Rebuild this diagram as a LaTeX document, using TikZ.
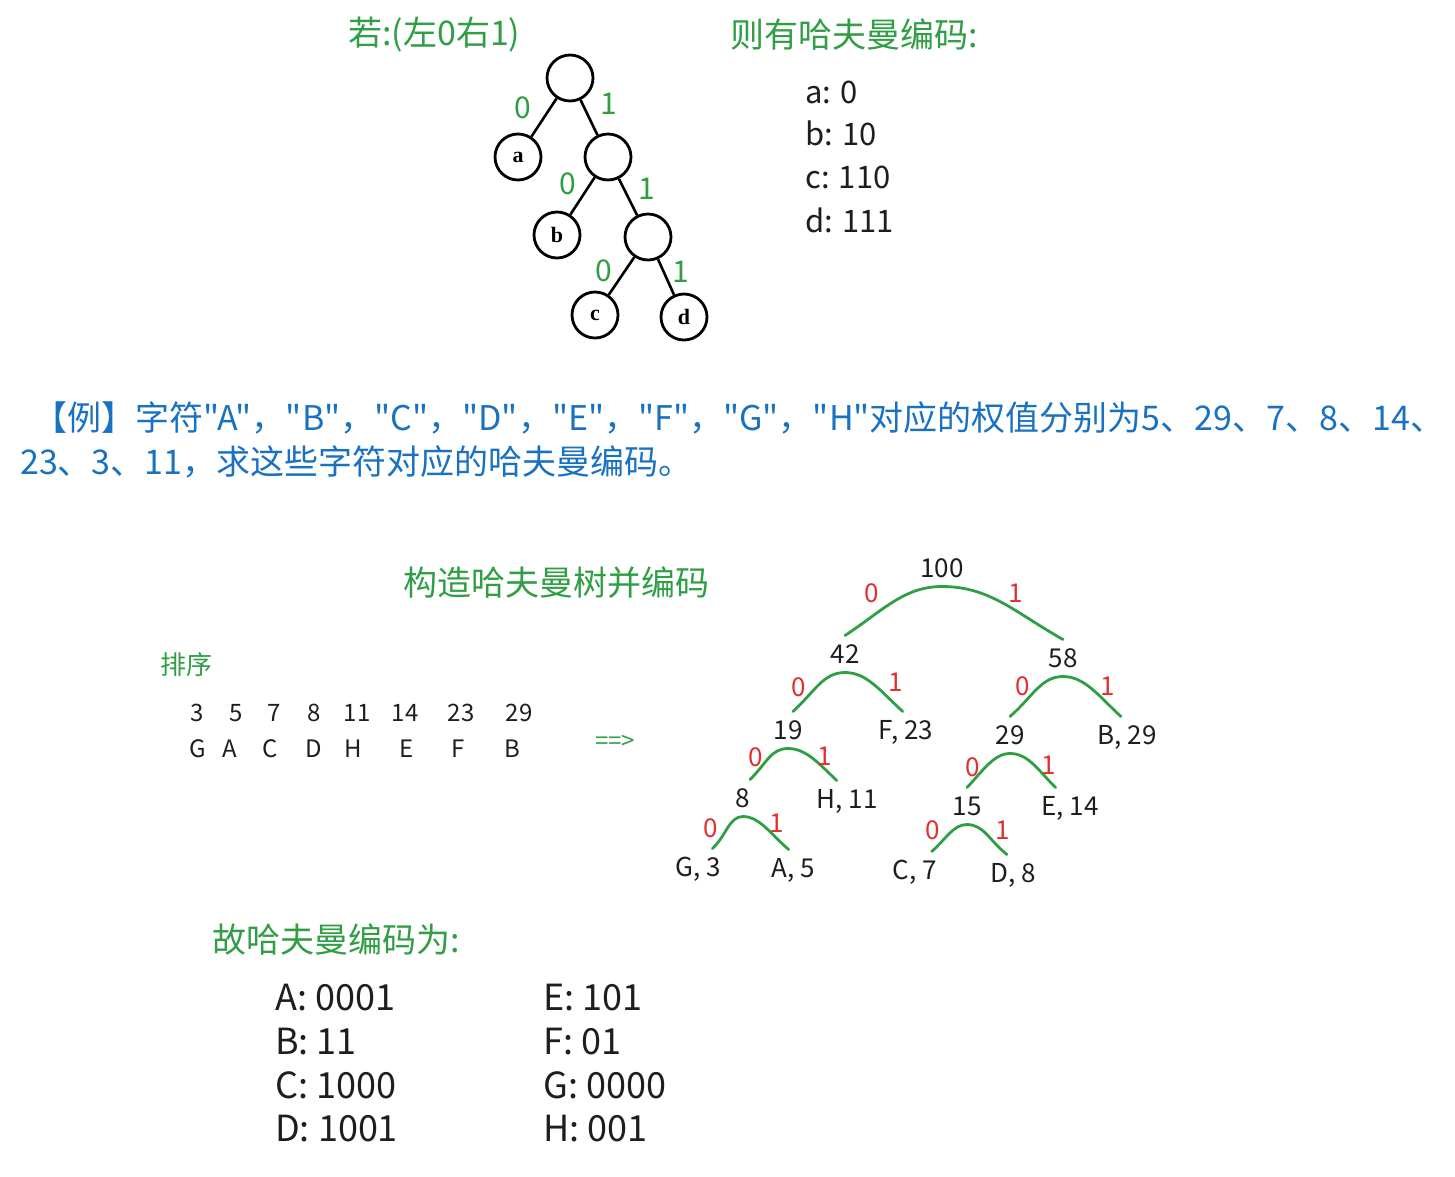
\documentclass[tikz,border=0pt]{standalone}
\usepackage{fontspec}
\setmainfont{Noto Sans CJK SC}
\newfontfamily\plainfont{Noto Sans CJK SC}
\newfontfamily\leaffont{Liberation Serif}
\newcommand{\qt}[1]{\symbol{34}#1\symbol{34}}
\definecolor{hgreen}{HTML}{2F9E44}
\definecolor{hred}{HTML}{E03131}
\definecolor{hblue}{HTML}{1971C2}
\definecolor{hblack}{HTML}{1E1E1E}
\begin{document}
\begin{tikzpicture}[x=1pt,y=-1pt,
  head/.style={inner sep=0pt, anchor=west, text=hgreen, font=\fontsize{34}{40}\selectfont},
  ask/.style={inner sep=0pt, anchor=west, text=hblue, font=\plainfont\fontsize{34}{40}\selectfont},
  code/.style={inner sep=0pt, anchor=west, text=hblack, font=\fontsize{31}{36}\selectfont},
  ans/.style={inner sep=0pt, anchor=west, text=hblack, font=\fontsize{36}{42}\selectfont},
  circ/.style={draw=black, circle, line width=2.8pt, minimum size=46pt, inner sep=0pt, font=\leaffont\bfseries\fontsize{22}{24}\selectfont},
  gbit/.style={inner sep=0pt, text=hgreen, font=\fontsize{30}{34}\selectfont},
  rbit/.style={inner sep=0pt, text=hred, font=\fontsize{26}{30}\selectfont},
  wt/.style={text=hblack, font=\fontsize{26}{30}\selectfont, text height=19pt, text depth=0pt, inner sep=4pt, outer sep=5pt},
  row/.style={inner sep=0pt, text=hblack, font=\fontsize{24}{28}\selectfont},
  branch/.style={draw=hgreen, line width=2.8pt, line cap=round},
  stick/.style={draw=black, line width=2.6pt}]
\useasboundingbox (0,0) rectangle (1455,1176);

% top: small example tree
\node (h1) at (348,35) [head] {若:(左0右1)};
\node (h2) at (730,35) [head] {则有哈夫曼编码:};
\node (root) at (570,78) [circ] {};
\node (na) at (518,157) [circ] {a};
\node (in1) at (608,157) [circ] {};
\node (nb) at (557,235) [circ] {b};
\node (in2) at (648,237) [circ] {};
\node (nc) at (595,315) [circ] {c};
\node (nd) at (684,317) [circ] {d};
\draw[stick] (root)--(na);
\draw[stick] (root)--(in1);
\draw[stick] (in1)--(nb);
\draw[stick] (in1)--(in2);
\draw[stick] (in2)--(nc);
\draw[stick] (in2)--(nd);
\node (g1) at (523,108) [gbit] {0};
\node (g2) at (609,104) [gbit] {1};
\node (g3) at (568,184) [gbit] {0};
\node (g4) at (647,189) [gbit] {1};
\node (g5) at (604,271) [gbit] {0};
\node (g6) at (681,272) [gbit] {1};
\node (ca) at (805,92) [code] {a: 0};
\node (cb) at (805,133) [code] {b: 10};
\node (cc) at (805,177) [code] {c: 110};
\node (cd) at (805,220) [code] {d: 111};

% the question
\node (q1) at (33,418) [ask] {【例】字符\qt{A}，\qt{B}，\qt{C}，\qt{D}，\qt{E}，\qt{F}，\qt{G}，\qt{H}对应的权值分别为5、29、7、8、14、};
\node (q2) at (20,462) [ask] {23、3、11，求这些字符对应的哈夫曼编码。};

% sorted weights
\node (h3) at (403,583) [head] {构造哈夫曼树并编码};
\node (h4) at (160,665) [head, font=\fontsize{26}{30}\selectfont] {排序};
\node (w1) at (197,713) [row] {3};
\node (w2) at (236,713) [row] {5};
\node (w3) at (274,713) [row] {7};
\node (w4) at (314,713) [row] {8};
\node (w5) at (357,713) [row] {11};
\node (w6) at (405,713) [row] {14};
\node (w7) at (461,713) [row] {23};
\node (w8) at (519,713) [row] {29};
\node (l1) at (198,749) [row] {G};
\node (l2) at (230,749) [row] {A};
\node (l3) at (270,749) [row] {C};
\node (l4) at (314,749) [row] {D};
\node (l5) at (353,749) [row] {H};
\node (l6) at (407,749) [row] {E};
\node (l7) at (458,749) [row] {F};
\node (l8) at (512,749) [row] {B};
\node (to) at (615,742) [row, text=hgreen] {==>};

% huffman tree
\node (n100) at (942,568) [wt] {100};
\node (n42) at (845,654) [wt] {42};
\node (n58) at (1063,658) [wt] {58};
\node (n19) at (788,730) [wt] {19};
\node (nF) at (906,730) [wt] {F, 23};
\node (n29) at (1010,735) [wt] {29};
\node (nB) at (1127,735) [wt] {B, 29};
\node (n8) at (743,798) [wt] {8};
\node (nH) at (847,799) [wt] {H, 11};
\node (n15) at (967,806) [wt] {15};
\node (nE) at (1070,806) [wt] {E, 14};
\node (nG) at (698,867) [wt] {G, 3};
\node (nA) at (793,868) [wt] {A, 5};
\node (nC) at (915,870) [wt] {C, 7};
\node (nD) at (1013,873) [wt] {D, 8};

\draw[branch] (n42.north) .. controls +(38,-25) and +(-38,0) .. (n100.south) .. controls +(48,0) and +(-48,-27) .. (n58.north);
\draw[branch] (n19.75) .. controls +(22,-20) and +(-22,0) .. (n42.south) .. controls +(22,0) and +(-22,-20) .. (nF.100);
\draw[branch] (n29.north) .. controls +(22,-19) and +(-22,0) .. (n58.south) .. controls +(22,0) and +(-22,-20) .. (nB.108);
\draw[branch] (n8.69) .. controls +(17,-17) and +(-17,0) .. (n19.south) .. controls +(18,0) and +(-18,-17) .. (nH.119);
\draw[branch] (n15.north) .. controls +(16,-17) and +(-16,0) .. (n29.south) .. controls +(18,0) and +(-18,-18) .. (nE.128);
\draw[branch] (nG.52) .. controls +(14,-13) and +(-14,0) .. (n8.south) .. controls +(17,0) and +(-17,-14) .. (nA.103);
\draw[branch] (nC.48) .. controls +(14,-12) and +(-14,0) .. (n15.south) .. controls +(17,0) and +(-17,-13) .. (nD.108);

\node (r1) at (872,593) [rbit] {0};
\node (r2) at (1016,593) [rbit] {1};
\node (r3) at (799,687) [rbit] {0};
\node (r4) at (896,682) [rbit] {1};
\node (r5) at (1023,686) [rbit] {0};
\node (r6) at (1108,686) [rbit] {1};
\node (r7) at (756,757) [rbit] {0};
\node (r8) at (825,756) [rbit] {1};
\node (r9) at (973,767) [rbit] {0};
\node (r10) at (1049,765) [rbit] {1};
\node (r11) at (711,828) [rbit] {0};
\node (r12) at (777,823) [rbit] {1};
\node (r13) at (933,830) [rbit] {0};
\node (r14) at (1003,830) [rbit] {1};

% result
\node (h5) at (212,940) [head] {故哈夫曼编码为:};
\node (kA) at (275,998) [ans] {A: 0001};
\node (kB) at (275,1042) [ans] {B: 11};
\node (kC) at (275,1085) [ans] {C: 1000};
\node (kD) at (275,1129) [ans] {D: 1001};
\node (kE) at (543,998) [ans] {E: 101};
\node (kF) at (543,1042) [ans] {F: 01};
\node (kG) at (543,1085) [ans] {G: 0000};
\node (kH) at (543,1129) [ans] {H: 001};
\end{tikzpicture}
\end{document}
